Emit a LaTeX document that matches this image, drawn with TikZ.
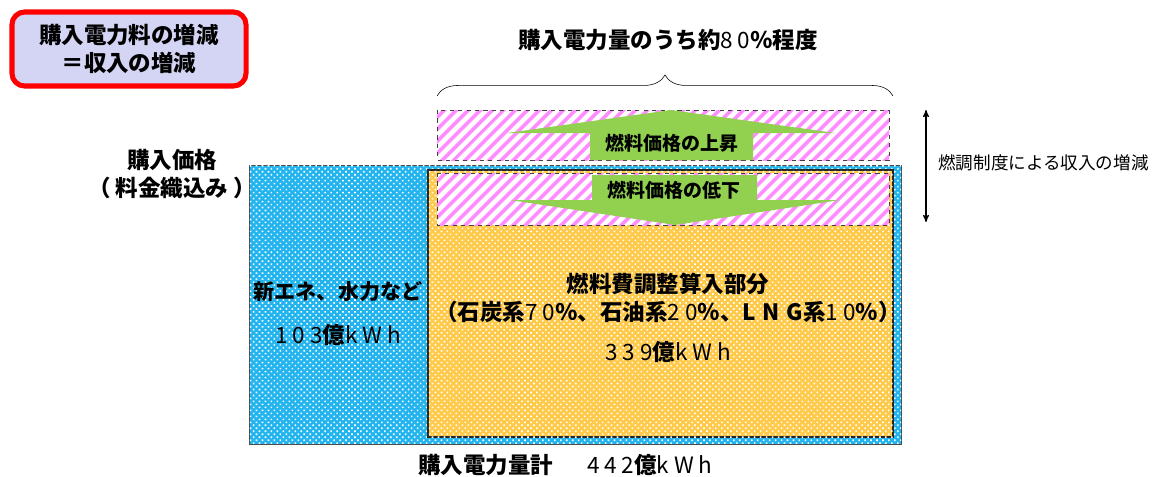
\documentclass[tikz,border=0pt]{standalone}
\usepackage{fontspec}
\setmainfont{Noto Sans CJK JP}
\usepackage{tikz}
\usetikzlibrary{arrows,patterns,patterns.meta,decorations.pathreplacing,positioning}
\definecolor{lav}{HTML}{D4D4F4}
\definecolor{bluebase}{HTML}{22B4EE}
\definecolor{yellowbase}{HTML}{FFC94A}
\definecolor{stripe}{HTML}{FF8CFF}
\definecolor{arrowgreen}{HTML}{92D050}
% spaced light figures
\newcommand\spc[1]{{\mdseries\addfontfeature{LetterSpace=22}#1}}
\newcommand\spcb[1]{{\addfontfeature{LetterSpace=30}#1}}
\tikzset{
    %Define standard arrow tip
    >=stealth',
    %Define style for text
    head/.style={
           font=\bfseries\fontsize{16}{20.5}\selectfont,
           align=center,
           inner sep=0pt},
    tag/.style={
           font=\bfseries\fontsize{13.5}{16}\selectfont,
           inner sep=0pt},
    note/.style={
           font=\fontsize{12.5}{15}\selectfont,
           inner sep=0pt},
    % Define style for boxes
    redbox/.style={
           rectangle,
           rounded corners=9pt,
           draw=red, line width=3.6pt,
           fill=lav,
           minimum width=5.85cm,
           minimum height=1.85cm,
           font=\bfseries\fontsize{16}{20}\selectfont,
           align=center},
    bluearea/.style={
           draw=black!70, thin,
           fill=bluebase,
           postaction={pattern={Dots[distance=3pt,radius=0.8pt,angle=45]}, pattern color=white}},
    yellowarea/.style={
           draw=black!85, line width=0.9pt,
           fill=yellowbase,
           postaction={pattern={Dots[distance=3pt,radius=0.8pt,angle=45]}, pattern color=white}},
    pinkbox/.style={
           draw=black!75, dashed, line width=0.7pt,
           preaction={fill=white},
           pattern={Lines[angle=45,distance=6.5pt,line width=2.8pt]}, pattern color=stripe},
    fat/.style={
           fill=arrowgreen, draw=none},
    % Define arrow style
    pil/.style={
           <->,
           thick}
}
\begin{document}
\begin{tikzpicture}[x=0.025cm,y=-0.025cm]
\useasboundingbox (0,0) rectangle (1159,476);

\node[redbox](gain) at (129,49){購入電力料の増減\\＝収入の増減};
\node[head](share) at (668,40){購入電力量のうち約\spc{80}％程度};
\node[head](price) at (172,174){購入価格\\（ 料金織込み ）};

% areas
\path[bluearea] (249,165) rectangle (901,444);
\path[yellowarea] (428,170) rectangle (893,437);
\path[pinkbox] (437,110) rectangle (889,160);
\path[pinkbox] (437,173) rectangle (889,225);

% brace over the fuel part
\coordinate (bl) at (437,96);
\coordinate (br) at (893,96);
\draw[thin, decorate, decoration={brace, amplitude=15pt}] (bl) -- (br);

% block arrows
\path[fat] (590,160) -- (590,133) -- (507,133) -- (671,110) -- (835,133)
    -- (753,133) -- (753,160) -- cycle;
\path[fat] (592,175) -- (757,175) -- (757,200) -- (840,200) -- (675,225)
    -- (510,200) -- (592,200) -- cycle;
\node[tag](rise) at (672,143){燃料価格の上昇};
\node[tag](fall) at (674,190){燃料価格の低下};

\node[head, font=\bfseries\fontsize{15}{18}\selectfont](renew) at (338,292){新エネ、水力など};
\node[head](renewkwh) at (338,335){\spc{103}億\spc{kWh}};
\node[head](fuel) at (668,298){燃料費調整算入部分\\（石炭系\spc{70}％、石油系\spc{20}％、\spcb{LNG}系\spc{10}％）};
\node[head](fuelkwh) at (668,352){\spc{339}億\spc{kWh}};
\node[head, anchor=west](total) at (418,465){購入電力量計\hspace{24pt}\spc{442}億\spc{kWh}};

\coordinate (up) at (926,110);
\coordinate (dn) at (926,222);
\draw[pil] (up) -- (dn);
\node[note, anchor=west](adj) at (938,163){燃調制度による収入の増減};
\end{tikzpicture}
\end{document}
